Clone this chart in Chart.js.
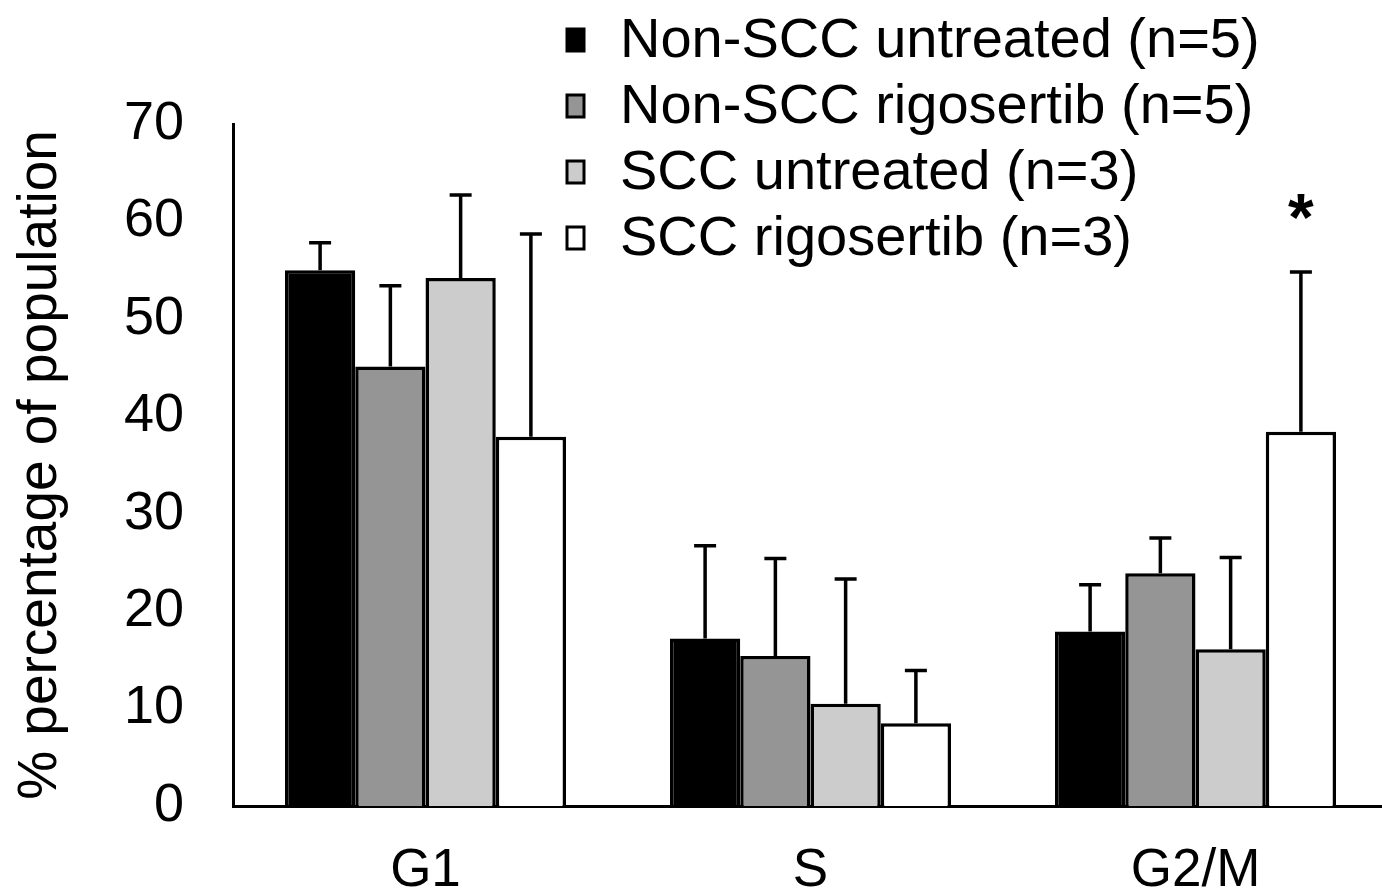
<!DOCTYPE html>
<html>
<head>
<meta charset="utf-8">
<script src="https://cdn.jsdelivr.net/npm/chart.js@4.4.1/dist/chart.umd.min.js"></script>
<style>
  html, body { margin: 0; padding: 0; background: #fff; overflow: hidden; }
  #wrap { width: 1388px; height: 892px; }
</style>
</head>
<body>
<div id="wrap"><canvas id="c" width="1388" height="892"></canvas></div>
<script>
const categories = ["G1", "S", "G2/M"];
const seriesLabels = ["Non-SCC untreated (n=5)", "Non-SCC rigosertib (n=5)", "SCC untreated (n=3)", "SCC rigosertib (n=3)"];
const nonSccUntreated = [55.0, 17.2, 17.9];
const nonSccRigosertib = [45.1, 15.4, 23.9];
const sccUntreated = [54.2, 10.5, 16.1];
const sccRigosertib = [37.9, 8.5, 38.4];
const errNonSccUntreated = [2.8, 9.5, 4.8];
const errNonSccRigosertib = [8.3, 10.0, 3.6];
const errSccUntreated = [8.5, 12.8, 9.4];
const errSccRigosertib = [20.8, 5.4, 16.4];
const yTicks = [0, 10, 20, 30, 40, 50, 60, 70];
const yTitle = "% percentage of population";
const significance = { dataset: 3, index: 2, mark: "*" };

const fills = ["#000000", "#959595", "#cccccc", "#ffffff"];
const values = [nonSccUntreated, nonSccRigosertib, sccUntreated, sccRigosertib];
const errors = [errNonSccUntreated, errNonSccRigosertib, errSccUntreated, errSccRigosertib];

const FONT = "'Liberation Sans', Arial, sans-serif";

const errorBarPlugin = {
  id: 'errorBars',
  afterDatasetsDraw(chart) {
    const ctx = chart.ctx;
    const ys = chart.scales.y;
    ctx.save();
    ctx.strokeStyle = '#000';
    ctx.lineWidth = 3.5;
    chart.data.datasets.forEach((ds, di) => {
      const meta = chart.getDatasetMeta(di);
      meta.data.forEach((bar, i) => {
        const top = ys.getPixelForValue(ds.data[i] + ds.errors[i]);
        ctx.beginPath();
        ctx.moveTo(bar.x, bar.y);
        ctx.lineTo(bar.x, top);
        ctx.moveTo(bar.x - 11, top);
        ctx.lineTo(bar.x + 11, top);
        ctx.stroke();
      });
    });
    const ds = chart.data.datasets[significance.dataset];
    const bar = chart.getDatasetMeta(significance.dataset).data[significance.index];
    const top = ys.getPixelForValue(ds.data[significance.index] + ds.errors[significance.index]);
    ctx.fillStyle = '#000';
    ctx.font = "bold 66px " + FONT;
    ctx.textAlign = 'center';
    ctx.textBaseline = 'middle';
    ctx.fillText(significance.mark, bar.x, top - 50);
    ctx.restore();
  }
};

const legendPlugin = {
  id: 'customLegend',
  afterDraw(chart) {
    const ctx = chart.ctx;
    ctx.save();
    ctx.font = "56px " + FONT;
    ctx.textBaseline = 'middle';
    ctx.textAlign = 'left';
    chart.data.datasets.forEach((ds, i) => {
      const cy = 40 + i * 66;
      ctx.fillStyle = ds.backgroundColor;
      ctx.fillRect(567, cy - 11, 17, 22);
      ctx.strokeStyle = '#000';
      ctx.lineWidth = 3;
      ctx.strokeRect(567, cy - 11, 17, 22);
      ctx.fillStyle = '#000';
      ctx.fillText(ds.label, 620, cy + 2);
    });
    ctx.restore();
  }
};

new Chart(document.getElementById('c'), {
  type: 'bar',
  data: {
    labels: categories,
    datasets: seriesLabels.map((lab, i) => ({
      label: lab,
      data: values[i],
      errors: errors[i],
      backgroundColor: fills[i],
      borderColor: '#000',
      borderWidth: 3.5,
      categoryPercentage: 0.73,
      barPercentage: 1.0
    }))
  },
  options: {
    responsive: false,
    animation: false,
    layout: { padding: { top: 124, right: 0, bottom: 0, left: 8 } },
    plugins: { legend: { display: false }, tooltip: { enabled: false } },
    scales: {
      x: {
        grid: { display: false, drawTicks: false },
        border: { display: true, color: '#000', width: 3 },
        ticks: { color: '#000', font: { family: FONT, size: 53 }, padding: 34 },
        afterFit(scale) { scale.height = 86; }
      },
      y: {
        min: 0, max: 70,
        afterBuildTicks(scale) { scale.ticks = yTicks.map(v => ({ value: v })); },
        grid: { display: false, drawTicks: false },
        border: { display: true, color: '#000', width: 3 },
        ticks: { color: '#000', font: { family: FONT, size: 54 }, padding: 49 },
        title: { display: true, text: yTitle, color: '#000', font: { family: FONT, size: 55 }, padding: { top: 0, bottom: 0 } },
        afterFit(scale) { scale.width = 225; }
      }
    }
  },
  plugins: [errorBarPlugin, legendPlugin]
});
</script>
</body>
</html>
